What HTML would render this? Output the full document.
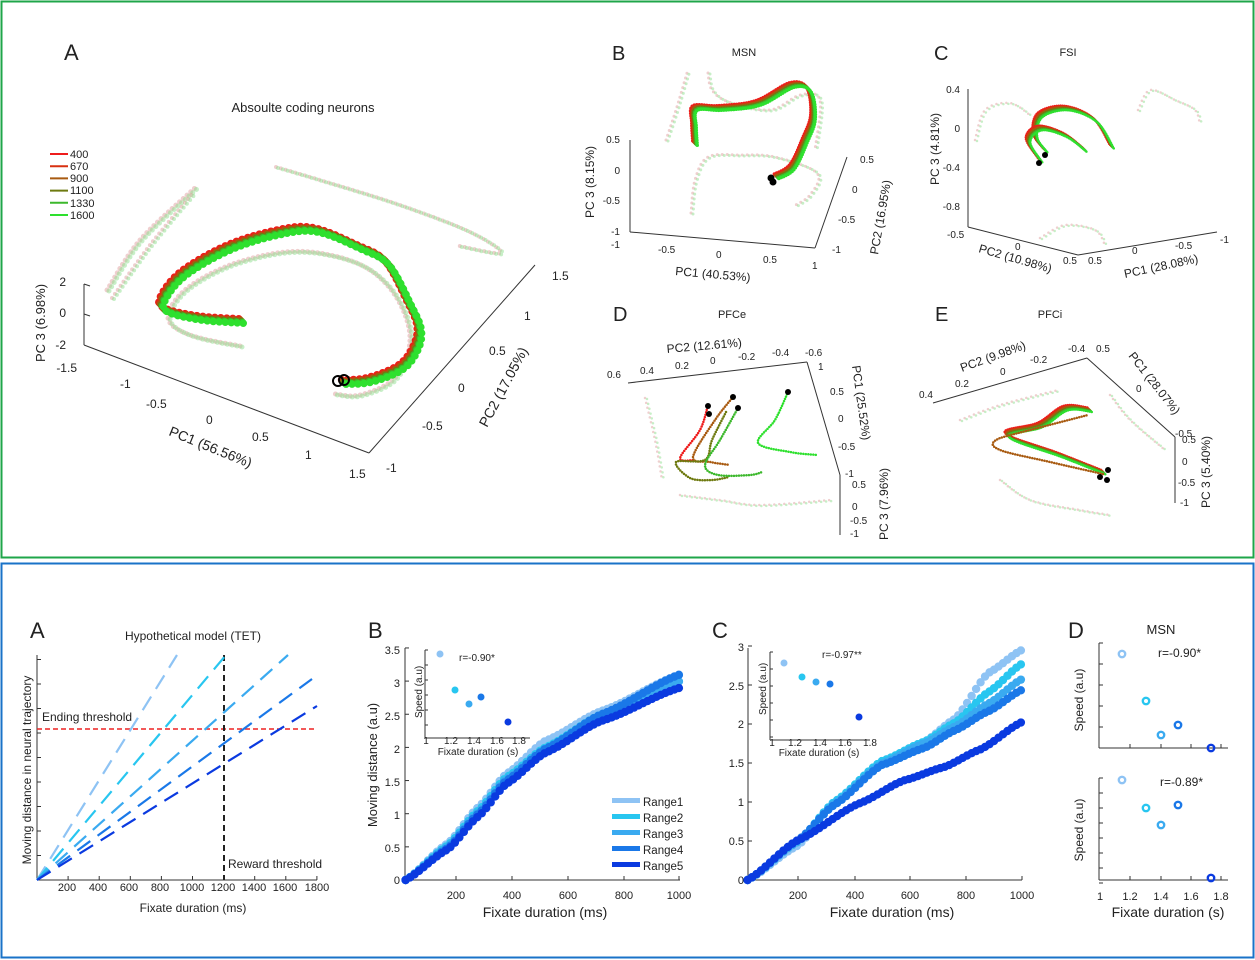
<!DOCTYPE html>
<html><head><meta charset="utf-8"><style>
html,body{margin:0;padding:0;background:#fff}
svg{display:block}
text{font-family:"Liberation Sans",Arial,sans-serif;fill:#222}
</style></head><body>
<svg id="s" width="1255" height="960" viewBox="0 0 1255 960" xmlns="http://www.w3.org/2000/svg">
<rect x="1.5" y="1.5" width="1252" height="556" fill="none" stroke="#1fa64a" stroke-width="2"/>
<rect x="1.5" y="563.5" width="1252" height="394" fill="none" stroke="#1a73c8" stroke-width="2"/>
<g id="g"></g>
<g font-size="11" stroke="none">
<text x="64" y="60" font-size="22">A</text>
<text x="303" y="112" font-size="13" text-anchor="middle">Absoulte coding neurons</text>
<g font-size="11">
<text x="70" y="158">400</text><text x="70" y="170">670</text><text x="70" y="182">900</text><text x="70" y="194">1100</text><text x="70" y="207">1330</text><text x="70" y="219">1600</text></g>
<g font-size="12" fill="#333">
<text x="66" y="286" text-anchor="end">2</text><text x="66" y="317" text-anchor="end">0</text><text x="66" y="349" text-anchor="end">-2</text>
<text x="77" y="372" text-anchor="end">-1.5</text><text x="120" y="388">-1</text><text x="146" y="408">-0.5</text><text x="206" y="424">0</text><text x="252" y="441">0.5</text><text x="305" y="459">1</text><text x="349" y="478">1.5</text>
<text x="552" y="280">1.5</text><text x="524" y="320">1</text><text x="489" y="355">0.5</text><text x="458" y="392">0</text><text x="422" y="430">-0.5</text><text x="386" y="472">-1</text>
<text transform="translate(168,435) rotate(22)" font-size="14">PC1 (56.56%)</text>
<text transform="translate(487,428) rotate(-62)" font-size="14">PC2 (17.05%)</text>
<text transform="translate(45,362) rotate(-90)" font-size="13">PC 3 (6.98%)</text>
</g>
<text x="612" y="60" font-size="20">B</text><text x="744" y="56" font-size="11" text-anchor="middle">MSN</text>
<g font-size="10" fill="#333">
<text x="620" y="143" text-anchor="end">0.5</text><text x="620" y="174" text-anchor="end">0</text><text x="620" y="204" text-anchor="end">-0.5</text><text x="620" y="235" text-anchor="end">-1</text>
<text x="611" y="248">-1</text><text x="658" y="253">-0.5</text><text x="716" y="258">0</text><text x="763" y="263">0.5</text><text x="812" y="269">1</text>
<text x="860" y="163">0.5</text><text x="852" y="193">0</text><text x="838" y="223">-0.5</text><text x="832" y="253">-1</text>
<text transform="translate(675,275) rotate(5)" font-size="12">PC1 (40.53%)</text>
<text transform="translate(878,255) rotate(-80)" font-size="12">PC2 (16.95%)</text>
<text transform="translate(594,218) rotate(-90)" font-size="12">PC 3 (8.15%)</text>
</g>
<text x="934" y="60" font-size="20">C</text><text x="1068" y="56" font-size="11" text-anchor="middle">FSI</text>
<g font-size="10" fill="#333">
<text x="960" y="93" text-anchor="end">0.4</text><text x="960" y="132" text-anchor="end">0</text><text x="960" y="171" text-anchor="end">-0.4</text><text x="960" y="210" text-anchor="end">-0.8</text>
<text x="947" y="238">-0.5</text><text x="1015" y="250">0</text><text x="1063" y="264">0.5</text><text x="1088" y="264">0.5</text><text x="1132" y="254">0</text><text x="1175" y="249">-0.5</text><text x="1220" y="243">-1</text>
<text transform="translate(978,252) rotate(16)" font-size="12">PC2 (10.98%)</text>
<text transform="translate(1125,278) rotate(-12)" font-size="12">PC1 (28.08%)</text>
<text transform="translate(939,185) rotate(-90)" font-size="12">PC 3 (4.81%)</text>
</g>
<text x="613" y="321" font-size="20">D</text><text x="732" y="318" font-size="11" text-anchor="middle">PFCe</text>
<g font-size="10" fill="#333">
<text x="607" y="378">0.6</text><text x="640" y="374">0.4</text><text x="675" y="369">0.2</text><text x="710" y="364">0</text><text x="738" y="360">-0.2</text><text x="772" y="356">-0.4</text><text x="805" y="356">-0.6</text>
<text x="818" y="370">1</text><text x="830" y="395">0.5</text><text x="838" y="422">0</text><text x="838" y="450">-0.5</text><text x="845" y="477">-1</text>
<text x="852" y="488">0.5</text><text x="852" y="510">0</text><text x="850" y="524">-0.5</text><text x="850" y="537">-1</text>
<text transform="translate(667,353) rotate(-5)" font-size="12">PC2 (12.61%)</text>
<text transform="translate(852,366) rotate(82)" font-size="12">PC1 (25.52%)</text>
<text transform="translate(888,540) rotate(-90)" font-size="12">PC 3 (7.96%)</text>
</g>
<text x="935" y="321" font-size="20">E</text><text x="1050" y="318" font-size="11" text-anchor="middle">PFCi</text>
<g font-size="10" fill="#333">
<text x="919" y="398">0.4</text><text x="955" y="387">0.2</text><text x="1000" y="375">0</text><text x="1030" y="363">-0.2</text><text x="1068" y="352">-0.4</text><text x="1096" y="352">0.5</text><text x="1136" y="392">0</text>
<text x="1182" y="443">0.5</text><text x="1182" y="465">0</text><text x="1178" y="486">-0.5</text><text x="1180" y="506">-1</text>
<text x="1175" y="437">-0.5</text>
<text transform="translate(962,372) rotate(-20)" font-size="12">PC2 (9.98%)</text>
<text transform="translate(1128,356) rotate(52)" font-size="12">PC1 (28.07%)</text>
<text transform="translate(1210,508) rotate(-90)" font-size="12">PC 3 (5.40%)</text>
</g>

<text x="30" y="638" font-size="22">A</text>
<text x="193" y="640" font-size="12" text-anchor="middle">Hypothetical model (TET)</text>
<text x="42" y="721" font-size="12" fill="#e22">Ending threshold</text>
<text x="228" y="868" font-size="12" fill="#e22">Reward threshold</text>
<g font-size="11" fill="#333" text-anchor="middle">
<text x="67" y="891">200</text><text x="98" y="891">400</text><text x="129" y="891">600</text><text x="160" y="891">800</text><text x="192" y="891">1000</text><text x="223" y="891">1200</text><text x="254" y="891">1400</text><text x="285" y="891">1600</text><text x="317" y="891">1800</text>
</g>
<text x="193" y="912" font-size="12" text-anchor="middle">Fixate duration (ms)</text>
<text transform="translate(31,770) rotate(-90)" font-size="12" text-anchor="middle">Moving distance in neural trajectory</text>
<text x="368" y="638" font-size="22">B</text>
<g font-size="11" fill="#333" text-anchor="end">
<text x="400" y="884">0</text><text x="400" y="852">0.5</text><text x="400" y="819">1</text><text x="400" y="786">1.5</text><text x="400" y="753">2</text><text x="400" y="720">2.5</text><text x="400" y="687">3</text><text x="400" y="654">3.5</text></g>
<g font-size="11" fill="#333" text-anchor="middle"><text x="456" y="899">200</text><text x="512" y="899">400</text><text x="568" y="899">600</text><text x="624" y="899">800</text><text x="679" y="899">1000</text></g>
<text x="545" y="917" font-size="14" text-anchor="middle">Fixate duration (ms)</text>
<text transform="translate(377,765) rotate(-90)" font-size="13" text-anchor="middle">Moving distance (a.u)</text>
<text x="459" y="661" font-size="10">r=-0.90*</text>
<g font-size="10" fill="#333" text-anchor="middle"><text x="426" y="744">1</text><text x="451" y="744">1.2</text><text x="474" y="744">1.4</text><text x="497" y="744">1.6</text><text x="519" y="744">1.8</text></g>
<text x="478" y="755" font-size="10" text-anchor="middle">Fixate duration (s)</text>
<text transform="translate(422,718) rotate(-90)" font-size="10">Speed (a.u)</text>
<g font-size="11.5"><text x="643" y="806">Range1</text><text x="643" y="822">Range2</text><text x="643" y="838">Range3</text><text x="643" y="854">Range4</text><text x="643" y="870">Range5</text></g>
<text x="712" y="638" font-size="22">C</text>
<g font-size="11" fill="#333" text-anchor="end">
<text x="744" y="884">0</text><text x="744" y="845">0.5</text><text x="744" y="806">1</text><text x="744" y="767">1.5</text><text x="744" y="728">2</text><text x="744" y="690">2.5</text><text x="744" y="651">3</text></g>
<g font-size="11" fill="#333" text-anchor="middle"><text x="798" y="899">200</text><text x="855" y="899">400</text><text x="910" y="899">600</text><text x="966" y="899">800</text><text x="1022" y="899">1000</text></g>
<text x="892" y="917" font-size="14" text-anchor="middle">Fixate duration (ms)</text>
<text x="822" y="658" font-size="10">r=-0.97**</text>
<g font-size="10" fill="#333" text-anchor="middle"><text x="772" y="746">1</text><text x="795" y="746">1.2</text><text x="820" y="746">1.4</text><text x="845" y="746">1.6</text><text x="870" y="746">1.8</text></g>
<text x="819" y="756" font-size="10" text-anchor="middle">Fixate duration (s)</text>
<text transform="translate(766,715) rotate(-90)" font-size="10">Speed (a.u)</text>
<text x="1068" y="638" font-size="22">D</text>
<text x="1161" y="634" font-size="13" text-anchor="middle">MSN</text>
<text x="1158" y="657" font-size="12">r=-0.90*</text>
<text x="1160" y="786" font-size="12">r=-0.89*</text>
<g font-size="11" fill="#333" text-anchor="middle"><text x="1100" y="900">1</text><text x="1130" y="900">1.2</text><text x="1161" y="900">1.4</text><text x="1191" y="900">1.6</text><text x="1221" y="900">1.8</text></g>
<text x="1168" y="917" font-size="14" text-anchor="middle">Fixate duration (s)</text>
<text transform="translate(1083,700) rotate(-90)" font-size="12" text-anchor="middle">Speed (a.u)</text>
<text transform="translate(1083,830) rotate(-90)" font-size="12" text-anchor="middle">Speed (a.u)</text>
</g>
</svg>
<script>
var g=document.getElementById('g'),NS='http://www.w3.org/2000/svg';
function el(t,a){var e=document.createElementNS(NS,t);for(var k in a)e.setAttribute(k,a[k]);g.appendChild(e);return e;}
function line(x1,y1,x2,y2,c,w,d){el('line',{x1:x1,y1:y1,x2:x2,y2:y2,stroke:c||'#333','stroke-width':w||1,'stroke-dasharray':d||''});}
function pl(p,c,w,d,o){el('polyline',{points:p.map(function(q){return q.join(',')}).join(' '),fill:'none',stroke:c,'stroke-width':w,'stroke-dasharray':d||'','stroke-linecap':'round','stroke-linejoin':'round',opacity:o==null?1:o});}
function smooth(p,n){var o=[];for(var i=0;i<p.length-1;i++){var p0=p[Math.max(i-1,0)],p1=p[i],p2=p[i+1],p3=p[Math.min(i+2,p.length-1)];for(var j=0;j<n;j++){var t=j/n,t2=t*t,t3=t2*t;o.push([0.5*(2*p1[0]+(-p0[0]+p2[0])*t+(2*p0[0]-5*p1[0]+4*p2[0]-p3[0])*t2+(-p0[0]+3*p1[0]-3*p2[0]+p3[0])*t3),0.5*(2*p1[1]+(-p0[1]+p2[1])*t+(2*p0[1]-5*p1[1]+4*p2[1]-p3[1])*t2+(-p0[1]+3*p1[1]-3*p2[1]+p3[1])*t3)]);}}o.push(p[p.length-1]);return o;}
function off(p,dx,dy){return p.map(function(q){return [q[0]+dx,q[1]+dy]});}
var C=['#ee1c1c','#d83010','#a85a10','#6e7a10','#3cb82c','#2ee02e'];
function traj(p,w,o,sp){var s=smooth(p,10);for(var i=0;i<C.length;i++){pl(off(s,(i-2.5)*0.9,(i-2.5)*0.9),C[i],w,'0 '+(sp||5),o);}}
function ghost(p,w){var s=smooth(p,10);pl(s,'#e0a0a0',w,'0 5',0.5);pl(off(s,2,1),'#90e090',w,'0 5',0.5);}
function dot(x,y,r,c){el('circle',{cx:x,cy:y,r:r,fill:c});}
function ring(x,y,r){el('circle',{cx:x,cy:y,r:r,fill:'none',stroke:'#000','stroke-width':2});}
for(var i=0;i<6;i++)line(50,154+i*12.2,68,154+i*12.2,C[i],2);
line(84,284,84,345);line(84,345,369,453);line(369,453,535,265);
line(84,284,90,286);line(84,314,90,316);
ghost([[107,290],[140,240],[196,187]],5);ghost([[112,298],[150,245],[194,192]],4);
ghost([[276,167],[320,180],[400,205],[470,232],[501,253],[455,245]],4);
ghost([[240,346],[190,335],[168,318],[185,290],[230,265],[285,252],[330,255],[370,270],[398,300],[410,340],[395,378],[360,395],[335,394]],5);
traj([[241,321],[200,318],[166,310],[163,298],[184,273],[230,247],[280,232],[316,230],[359,247],[387,263],[409,303],[419,327],[416,347],[401,367],[369,380],[341,382]],7.5,1,6);
ring(338,381,5);ring(344,380,5);
line(630,140,630,232);line(630,232,815,248);line(815,248,847,157);
ghost([[666,140],[676,110],[687,73]],3);
ghost([[708,73],[712,90],[729,102],[770,110],[800,95],[820,100],[815,150]],3);
ghost([[691,213],[695,180],[708,157],[740,155],[775,157],[817,173],[810,195],[792,207]],3);
traj([[695,143],[694,125],[695,108],[720,108],[758,103],[792,85],[809,90],[813,117],[805,140],[792,167],[775,177]],3.5,1,2.5);
dot(771,178,3.5,'#000');dot(773,182,3.5,'#000');
line(968,89,968,227);line(968,227,1078,255);line(1078,255,1217,232);
ghost([[975,140],[985,110],[1010,103],[1030,115]],2.5);ghost([[1138,110],[1150,90],[1175,100],[1195,110],[1200,125]],2.5);ghost([[1040,238],[1065,225],[1095,230],[1105,245]],2.5);
traj([[1045,150],[1035,135],[1040,115],[1066,108],[1095,120],[1112,147]],2.5,1,2);
traj([[1040,160],[1028,140],[1040,128],[1065,135],[1085,150]],2.5,1,2);
dot(1045,155,3,'#000');dot(1039,163,3,'#000');
line(628,383,807,362);line(807,362,840,475);line(840,475,840,535);
ghost([[645,398],[655,440],[662,480]],2.5);ghost([[680,495],[720,500],[760,505],[830,500]],2.5);
pl(smooth([[708,405],[700,430],[680,458],[695,460]],8),'#ee1c1c',2.5,'0 2.5');
pl(smooth([[733,397],[715,420],[693,457],[710,462],[730,465]],8),'#a85a10',2.5,'0 2.5');
pl(smooth([[726,412],[712,440],[705,460],[676,462],[690,478],[712,480],[729,477]],8),'#6e7a10',2.5,'0 2.5');
pl(smooth([[738,408],[720,440],[705,465],[718,475],[750,475],[762,472]],8),'#3cb82c',2.5,'0 2.5');
pl(smooth([[788,392],[775,420],[758,443],[790,452],[817,455]],8),'#2ee02e',2.5,'0 2.5');
dot(708,406,3,'#000');dot(733,397,3,'#000');dot(738,408,3,'#000');dot(788,392,3,'#000');dot(709,414,3,'#000');
line(933,403,1087,358);line(1087,358,1175,437);line(1175,437,1175,503);
ghost([[960,420],[1000,405],[1050,392],[1060,390]],2.5);ghost([[1110,395],[1130,420],[1165,450]],2.5);ghost([[1000,480],[1030,500],[1080,510],[1110,515]],2.5);
traj([[1103,472],[1060,455],[1007,435],[1040,425],[1066,408],[1091,410]],2.5,1,2);
pl(smooth([[1103,474],[1050,462],[1000,450],[996,440],[1030,430],[1088,415]],8),'#a85a10',2.5,'0 2.5');
dot(1100,477,3,'#000');dot(1107,480,3,'#000');dot(1108,470,3,'#000');
line(37,655,37,880);line(37,880,317,880);
for(var i=0;i<10;i++)line(37,880-i*24.5,41,880-i*24.5);
for(var i=1;i<=9;i++)line(37+i*31.1,880,37+i*31.1,876);
line(37,729,317,729,'#ee2222',1.5,'5 3');
line(224,655,224,880,'#222',2,'6 4');
var B=['#8ec3f4','#28c6f0','#3aaaf0','#1a78e8','#0a3ae0'],ends=[[177,655],[226,655],[288,655],[312,679],[317,706]];
for(var i=0;i<5;i++)line(37,880,ends[i][0],ends[i][1],B[i],2.2,'16 9');
line(405,648,405,880);line(405,880,680,880);
for(var v=0;v<=3.5;v+=0.5)line(405,880-v*66.3,409,880-v*66.3);
[456,512,568,624,679].forEach(function(x){line(x,880,x,876)});
function curve(x0,sx,y0,sy,f,c,r){for(var t=20;t<=1000;t+=16){var x=x0+t*sx,y=y0-f(t)*sy;dot(x,y,r,c);}}
function interp(pts){return function(t){for(var i=0;i<pts.length-1;i++){if(t<=pts[i+1][0]){var a=pts[i],b=pts[i+1],u=(t-a[0])/(b[0]-a[0]);return a[1]+(b[1]-a[1])*(u*u*(3-2*u)*0.3+u*0.7);}}return pts[pts.length-1][1];};}
var bb=[[[20,0],[170,0.55],[280,1.1],[380,1.6],[520,2.1],[720,2.55],[1000,3.1]],
[[20,0],[170,0.52],[280,1.05],[380,1.55],[520,2.0],[720,2.5],[1000,3.0]],
[[20,0],[170,0.5],[280,1.02],[380,1.52],[520,1.98],[720,2.45],[1000,3.0]],
[[20,0],[170,0.48],[280,1.0],[380,1.5],[520,1.98],[720,2.5],[1000,3.1]],
[[20,0],[170,0.46],[280,0.96],[380,1.45],[520,1.92],[720,2.4],[1000,2.9]]];
for(var i=0;i<5;i++)curve(400,0.28,880,66.3,interp(bb[i]),B[i],4.2);
line(425,650,425,738);line(425,738,530,738);
for(var i=0;i<6;i++)line(425,650+i*15,428,650+i*15);
[[440,654,0],[455,690,1],[469,704,2],[481,697,3],[508,722,4]].forEach(function(q){dot(q[0],q[1],3.5,B[q[2]]);});
for(var i=0;i<5;i++)el('rect',{x:612,y:798+i*16,width:28,height:5,fill:B[i]});
line(748,648,748,880);line(748,880,1022,880);
for(var v=0;v<=3;v+=0.5)line(748,880-v*78,752,880-v*78);
[798,855,910,966,1022].forEach(function(x){line(x,880,x,876)});
var cc=[[[20,0],[200,0.45],[330,1.0],[500,1.55],[650,1.8],[760,2.1],[880,2.7],[1000,3.0]],
[[20,0],[200,0.5],[330,1.02],[500,1.55],[650,1.8],[760,2.05],[880,2.45],[1000,2.82]],
[[20,0],[200,0.5],[330,1.0],[500,1.52],[650,1.78],[760,2.0],[880,2.3],[1000,2.62]],
[[20,0],[200,0.52],[330,0.98],[500,1.5],[650,1.72],[760,1.95],[880,2.2],[1000,2.48]],
[[20,0],[200,0.52],[420,1.0],[580,1.3],[720,1.47],[850,1.7],[1000,2.06]]];
for(var i=0;i<5;i++)curve(742,0.28,880,76.7,interp(cc[i]),B[i],4.2);
line(770,652,770,740);line(770,740,870,740);
for(var i=0;i<6;i++)line(770,652+i*17,773,652+i*17);
[[784,663,0],[802,677,1],[816,682,2],[830,684,3],[859,717,4]].forEach(function(q){el('circle',{cx:q[0],cy:q[1],r:3.5,fill:B[q[2]]});});
line(1099,643,1099,748);line(1099,748,1228,748);line(1099,778,1099,880);line(1099,880,1228,880);
for(var i=0;i<6;i++){line(1099,643+i*21,1103,643+i*21);}
for(var i=0;i<8;i++){line(1099,778+i*15,1103,778+i*15);}
[1130,1161,1191,1221].forEach(function(x){line(x,748,x,744);line(x,880,x,876);});
function od(x,y,c){el('circle',{cx:x,cy:y,r:3.2,fill:'none',stroke:c,'stroke-width':2.4});}
od(1122,654,B[0]);od(1146,701,B[1]);od(1161,735,B[2]);od(1178,725,B[3]);od(1211,748,B[4]);
od(1122,780,B[0]);od(1146,808,B[1]);od(1161,825,B[2]);od(1178,805,B[3]);od(1211,878,B[4]);
</script>
</body></html>
